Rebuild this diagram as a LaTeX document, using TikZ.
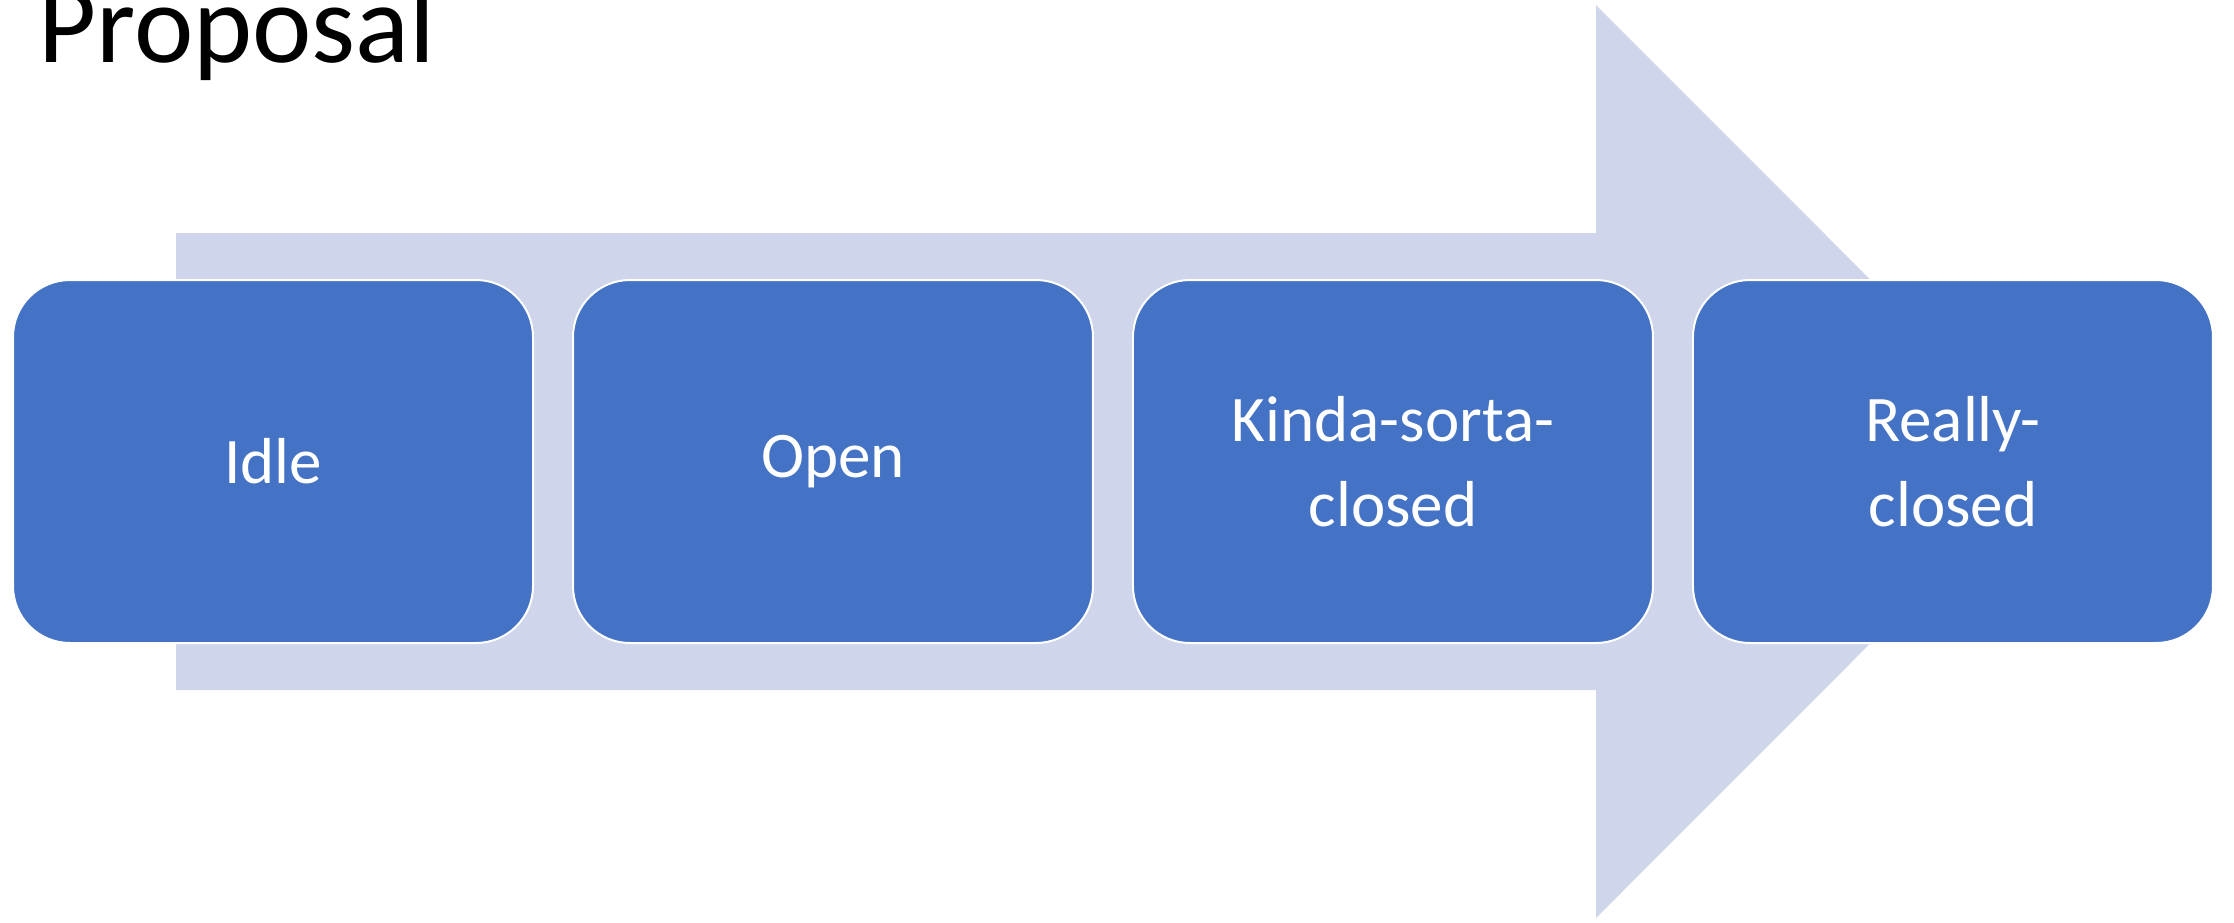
\documentclass[tikz,border=0pt]{standalone}
\usepackage{fontspec}
\setmainfont{Carlito}
\usetikzlibrary{positioning}
\definecolor{stateblue}{RGB}{68,114,196}
\definecolor{arrowfill}{RGB}{207,213,234}

\begin{document}
\begin{tikzpicture}[x=0.1mm,y=-0.1mm,
  state/.style={draw=white,line width=0.2mm,fill=stateblue,rounded corners=5.7mm,
    minimum width=52mm,minimum height=36.3mm,outer sep=0pt,inner sep=0pt,
    text=white,align=center,font=\fontsize{18.5}{24}\selectfont}]
  \useasboundingbox (0,0) rectangle (2234,922);
  % big background arrow (px units, y downwards)
  \fill[arrowfill] (176,233) -- (1596,233) -- (1596,5) -- (2052,461.5)
    -- (1596,918) -- (1596,690) -- (176,690) -- cycle;
  % title, cut at the top edge
  \node[anchor=base west,inner sep=0pt,font=\fontsize{32}{38}\selectfont] (title) at (38,62) {Proposal};
  % the four states
  \node[state] (idle) at (273,461.5) {Idle};
  \node[state,right=4mm of idle] (open) {Open};
  \node[state,right=4mm of open] (kinda) {Kinda-sorta-\\closed};
  \node[state,right=4mm of kinda] (really) {Really-\\closed};
\end{tikzpicture}
\end{document}
